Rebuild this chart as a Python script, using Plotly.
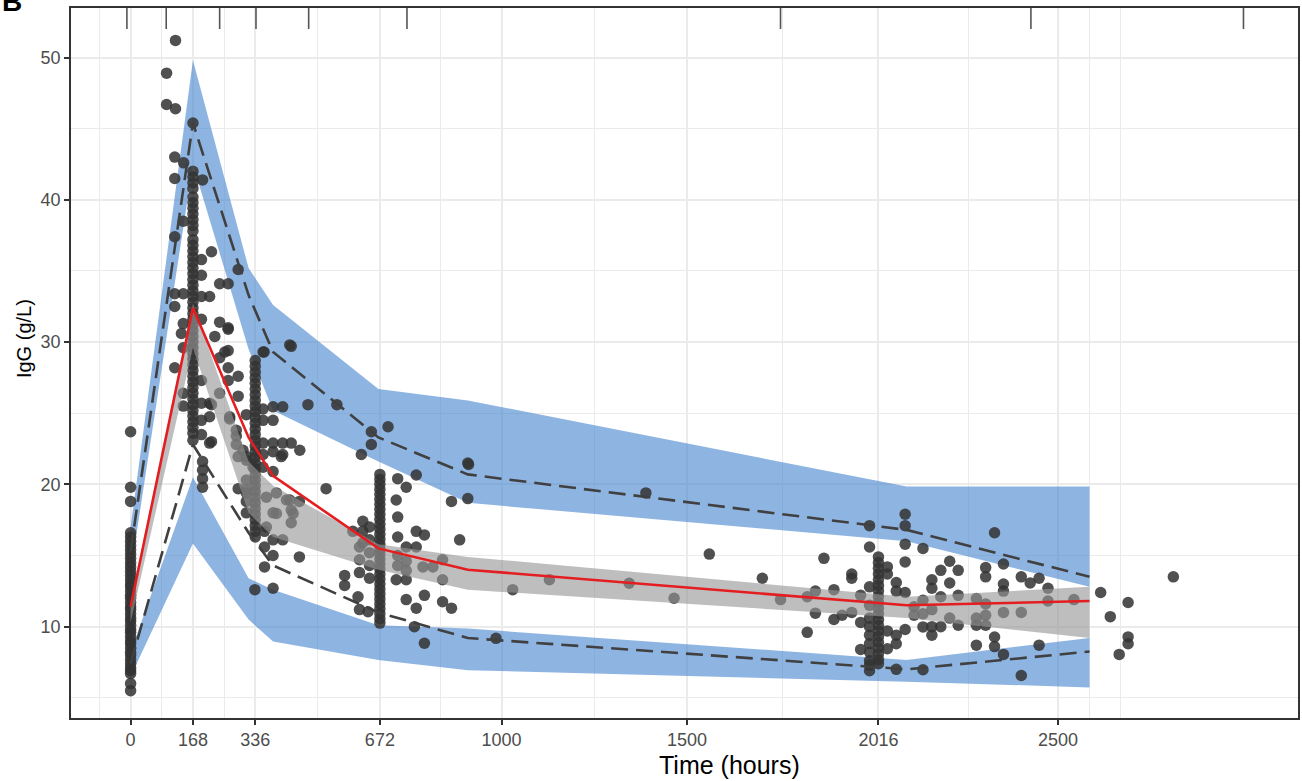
import plotly.graph_objects as go

# ---------------- data ----------------
bin_time = [0, 168, 318, 384, 668, 909, 2092, 2585]
obs_median = [11.4, 32.4, 23.3, 20.6, 15.5, 14.0, 11.5, 11.8]
obs_p95 = [15.3, 45.4, 33.3, 29.3, 23.3, 20.7, 16.8, 13.5]
obs_p05 = [7.4, 22.8, 16.6, 14.3, 11.0, 9.2, 7.0, 8.25]
sim_p95_lo = [13.8, 42.5, 29.5, 25.2, 21.6, 18.7, 16.0, 12.8]
sim_p95_hi = [17.0, 49.8, 35.2, 32.6, 26.7, 25.9, 19.85, 19.85]
sim_p50_lo = [10.3, 29.6, 18.0, 16.3, 14.0, 12.6, 10.6, 9.2]
sim_p50_hi = [11.7, 32.7, 21.6, 19.9, 15.8, 14.9, 12.1, 12.8]
sim_p05_lo = [6.5, 15.85, 10.5, 8.95, 7.66, 6.94, 6.13, 5.73]
sim_p05_hi = [8.2, 20.5, 13.4, 12.6, 10.1, 9.87, 7.66, 9.2]

bin_edges = [-10, 96, 240, 338, 480, 745, 1752, 2427, 3000]

# observed IgG at nominal sampling times
t0_igg = [23.7, 19.8, 18.8, 16.6, 16.3, 16.0, 15.7, 15.4, 15.1, 14.8, 14.5, 14.2,
          13.9, 13.6, 13.3, 13.0, 12.8, 12.5, 12.2, 12.0, 11.7, 11.4, 11.2, 10.9,
          10.6, 10.4, 10.1, 9.8, 9.6, 9.3, 9.0, 8.8, 8.5, 8.2, 8.0, 7.7, 7.4, 7.1,
          6.9, 6.7, 6.0, 5.5]
t168_igg = [45.4, 42.0, 41.6, 41.2, 40.8, 40.2, 39.8, 39.4, 39.0, 38.6, 38.2, 37.8,
            37.2, 36.8, 36.4, 36.0, 35.6, 35.2, 34.8, 34.4, 34.0, 33.6, 33.2, 32.8,
            32.4, 32.0, 31.6, 31.2, 30.8, 30.4, 30.0, 29.6, 29.2, 28.8, 28.4, 28.0,
            27.6, 27.2, 26.8, 26.4, 26.0, 25.6, 25.2, 24.8, 24.4, 24.0, 23.6, 23.1]
t336_igg = [28.7, 28.3, 27.9, 27.5, 27.1, 26.7, 26.3, 25.9, 25.5, 25.1, 24.7, 24.3,
            23.9, 23.5, 23.1, 22.7, 22.3, 21.9, 21.5, 21.1, 20.7, 20.3, 19.9, 19.5,
            19.1, 18.7, 18.3, 17.9, 17.5, 17.1, 16.7, 16.3]
t672_igg = [20.7, 20.35, 20.0, 19.65, 19.3, 18.95, 18.6, 18.25, 17.9, 17.55, 17.2,
            16.85, 16.5, 16.15, 15.8, 15.45, 15.1, 14.75, 14.4, 14.05, 13.7, 13.35,
            13.0, 12.65, 12.3, 11.95, 11.6, 11.25, 10.9, 10.55, 10.25]
t1992_igg = [17.1, 15.6, 12.8, 11.5, 10.6, 10.0, 9.4, 8.8, 8.2, 7.6, 7.3, 6.9]
t2016_igg = [14.9, 14.5, 14.1, 13.7, 13.3, 12.9, 12.5, 12.1, 11.7, 11.3, 10.9, 10.5,
             10.1, 9.7, 9.3, 8.9, 8.5, 8.1, 7.7, 7.4]

other_time = [97, 97, 121, 121, 119, 143, 119, 194, 142, 119, 218, 191, 191, 240, 263,
              290, 119, 119, 142, 191, 213, 240, 263, 433, 360, 263, 142, 137, 142,
              119, 142, 142, 191, 263, 240, 263, 290, 263, 191, 191, 213, 213, 191,
              191, 213, 290, 312, 267, 285, 290, 290, 312, 194, 194, 194, 194, 218,
              218, 240, 267, 285, 285, 303, 312, 312, 312, 312, 227, 254, 312, 330,
              312, 366, 393, 420, 438, 393, 366, 357, 384, 410, 357, 384, 357, 384,
              410, 433, 357, 384, 410, 357, 429, 357, 456, 406, 384, 527, 429, 433,
              455, 384, 433, 361, 410, 384, 361, 384, 455, 361, 335, 384, 478, 556,
              577, 577, 887, 865, 909, 909, 694, 649, 649, 622, 720, 743, 770, 716,
              720, 770, 792, 720, 743, 770, 720, 743, 788, 841, 815, 743, 743, 720,
              716, 743, 770, 841, 865, 792, 613, 617, 640, 626, 626, 626, 644, 644,
              644, 644, 644, 617, 617, 617, 599, 792, 765, 841, 1030, 1129, 1344,
              1465, 1560, 1703, 1752, 1389, 985, 911, 1824, 1824, 1846, 1846, 1869,
              1896, 1896, 1918, 1944, 1944, 1944, 1968, 1968, 1968, 2040, 2040, 2040,
              2040, 2064, 2064, 2064, 2064, 2064, 2088, 2088, 2088, 2088, 2088, 2088,
              2112, 2112, 2136, 2136, 2136, 2136, 2136, 2160, 2160, 2160, 2160, 2160,
              2184, 2184, 2184, 2208, 2208, 2208, 2231, 2231, 2231, 2280, 2280, 2280,
              2280, 2305, 2305, 2305, 2305, 2305, 2329, 2329, 2329, 2353, 2353, 2353,
              2353, 2353, 2401, 2401, 2401, 2425, 2449, 2449, 2473, 2473, 2543, 2615,
              2641, 2689, 2689, 2689, 2665, 2811]
other_igg = [48.9, 46.7, 51.2, 46.4, 43.0, 42.6, 41.5, 41.4, 38.5, 37.4, 36.35, 35.8,
             34.7, 34.1, 34.1, 35.1, 33.4, 32.5, 33.4, 33.2, 33.2, 31.4, 31.0, 29.7,
             29.3, 29.4, 31.3, 30.6, 29.6, 28.2, 26.4, 25.5, 31.6, 30.9, 28.9, 28.2,
             27.6, 27.3, 27.3, 25.7, 25.7, 24.75, 24.5, 23.5, 22.9, 26.2, 24.9, 24.75,
             23.4, 21.95, 19.7, 19.4, 21.6, 21.0, 20.4, 19.8, 25.6, 23.0, 26.4, 24.6,
             23.8, 22.8, 22.4, 21.7, 18.8, 18.0, 19.6, 30.4, 29.3, 21.95, 21.2, 20.3,
             19.1, 19.4, 18.9, 17.95, 17.95, 17.0, 25.3, 25.45, 25.45, 24.5, 24.5,
             22.9, 22.9, 22.9, 22.9, 22.1, 22.3, 22.1, 21.2, 29.8, 29.3, 22.4, 21.95,
             20.9, 19.7, 18.9, 18.2, 18.8, 18.0, 17.3, 16.7, 16.1, 16.1, 15.6, 15.0,
             14.9, 14.2, 12.6, 12.7, 25.6, 25.6, 13.6, 12.9, 16.1, 18.8, 19.0, 21.5,
             24.05, 23.7, 22.8, 22.1, 20.4, 19.8, 20.66, 18.9, 17.7, 16.7, 16.45, 16.3,
             15.6, 15.6, 15.0, 14.6, 14.2, 14.7, 14.2, 13.95, 13.3, 14.3, 13.3, 11.9,
             11.3, 11.75, 11.3, 12.2, 12.1, 11.2, 11.05, 17.4, 16.7, 15.9, 17.0, 16.1,
             15.2, 14.3, 13.4, 15.6, 14.7, 13.8, 16.7, 8.83, 10.0, 13.3, 12.6, 13.3,
             13.05, 12.0, 15.1, 13.4, 11.9, 19.4, 9.18, 21.4, 9.6, 12.1, 10.95, 12.5,
             14.8, 12.6, 10.5, 10.8, 13.7, 13.4, 11.0, 12.2, 10.3, 8.4, 14.2, 13.7,
             9.7, 8.45, 13.1, 12.5, 9.4, 8.8, 7.0, 17.9, 17.1, 15.8, 14.55, 12.4, 9.8,
             11.4, 10.8, 15.5, 11.85, 10.9, 9.98, 6.97, 13.3, 12.7, 11.2, 10.0, 9.4,
             13.96, 12.1, 10.0, 14.6, 13.07, 10.6, 13.96, 12.2, 10.1, 11.97, 10.6,
             10.1, 8.7, 14.15, 13.5, 11.6, 10.8, 10.1, 16.6, 9.27, 8.6, 14.4, 13.0,
             12.5, 11.0, 8.05, 13.5, 11.0, 6.57, 13.07, 13.4, 8.7, 12.7, 11.8, 11.9,
             12.4, 10.7, 11.7, 9.28, 8.8, 8.05, 13.5]

x_ticks = [0, 168, 336, 672, 1000, 1500, 2016, 2500]
x_minor = [-84, 84, 252, 504, 836, 1250, 1758, 2258, 2584, 2668]
y_ticks = [10, 20, 30, 40, 50]
y_minor = [5, 15, 25, 35, 45]

# ---------------- assemble observations ----------------
obs_time = ([0] * len(t0_igg) + [168] * len(t168_igg) + [336] * len(t336_igg)
            + [672] * len(t672_igg) + [1992] * len(t1992_igg)
            + [2016] * len(t2016_igg) + other_time)
obs_igg = t0_igg + t168_igg + t336_igg + t672_igg + t1992_igg + t2016_igg + other_igg

BLUE = "rgba(60,125,205,0.58)"
GREY = "rgba(150,150,150,0.62)"
FONT = "Liberation Sans, Arial, Helvetica, sans-serif"


def band(lo, hi, color):
    return go.Scatter(x=bin_time + bin_time[::-1], y=hi + lo[::-1], fill="toself",
                      fillcolor=color, line=dict(width=0), mode="lines",
                      hoverinfo="skip")


fig = go.Figure()
fig.add_trace(band(sim_p95_lo, sim_p95_hi, BLUE))
fig.add_trace(band(sim_p05_lo, sim_p05_hi, BLUE))
fig.add_trace(go.Scatter(x=obs_time, y=obs_igg, mode="markers",
                         marker=dict(size=11.5, color="rgba(51,51,51,0.86)",
                                     line=dict(width=0))))
fig.add_trace(band(sim_p50_lo, sim_p50_hi, GREY))
for q in (obs_p95, obs_p05):
    fig.add_trace(go.Scatter(x=bin_time, y=q, mode="lines",
                             line=dict(color="#404040", width=2.6, dash="17px,8px")))
fig.add_trace(go.Scatter(x=bin_time, y=obs_median, mode="lines",
                         line=dict(color="#E41E20", width=2.6)))

# rug of bin boundaries at the top
for e in bin_edges:
    fig.add_shape(type="line", xref="x", yref="paper", x0=e, x1=e, y0=1, y1=0.9704,
                  line=dict(color="#555555", width=1.6))

L, R, T, B = 71, 2, 8, 63
W, H = 1302, 781
pw, ph = W - L - R, H - T - B

axis_common = dict(showline=True, linecolor="#333333", linewidth=1.5, mirror=True,
                   ticks="outside", ticklen=5, tickwidth=1.5, tickcolor="#333333",
                   tickfont=dict(size=18, color="#4D4D4D", family=FONT), showgrid=True,
                   gridcolor="#EBEBEB", gridwidth=2, zeroline=False)

fig.update_layout(
    width=W, height=H, margin=dict(l=L, r=R, t=T, b=B),
    plot_bgcolor="white", paper_bgcolor="white", showlegend=False,
    font=dict(family=FONT),
    xaxis=dict(range=[-160.7, 3147], tickmode="array", tickvals=x_ticks,
               ticktext=[str(v) for v in x_ticks],
               minor=dict(tickmode="array", tickvals=x_minor, showgrid=True,
                          gridcolor="#EBEBEB", gridwidth=1, ticks=""),
               **axis_common),
    yaxis=dict(range=[3.58, 53.48], tickmode="array", tickvals=y_ticks,
               ticktext=[str(v) for v in y_ticks],
               minor=dict(tickmode="array", tickvals=y_minor, showgrid=True,
                          gridcolor="#EBEBEB", gridwidth=1, ticks=""),
               **axis_common),
)

fig.add_annotation(text="Time (hours)", xref="paper", yref="paper",
                   x=(731 - L) / pw, y=-(765 - (T + ph)) / ph, showarrow=False,
                   xanchor="center", yanchor="middle",
                   font=dict(size=25, color="black", family=FONT))
fig.add_annotation(text="IgG (g/L)", xref="paper", yref="paper",
                   x=(24 - L) / pw, y=((T + ph) - 339) / ph, showarrow=False,
                   textangle=-90, xanchor="center", yanchor="middle",
                   font=dict(size=20, color="black", family=FONT))
fig.add_annotation(text="<b>B</b>", xref="paper", yref="paper",
                   x=-L / pw, y=((T + ph) - 1) / ph, showarrow=False,
                   xanchor="left", yanchor="middle",
                   font=dict(size=28, color="black", family=FONT))

fig.write_html("out.html", config={"displayModeBar": False},
               post_script="document.body.style.margin='0px';")
